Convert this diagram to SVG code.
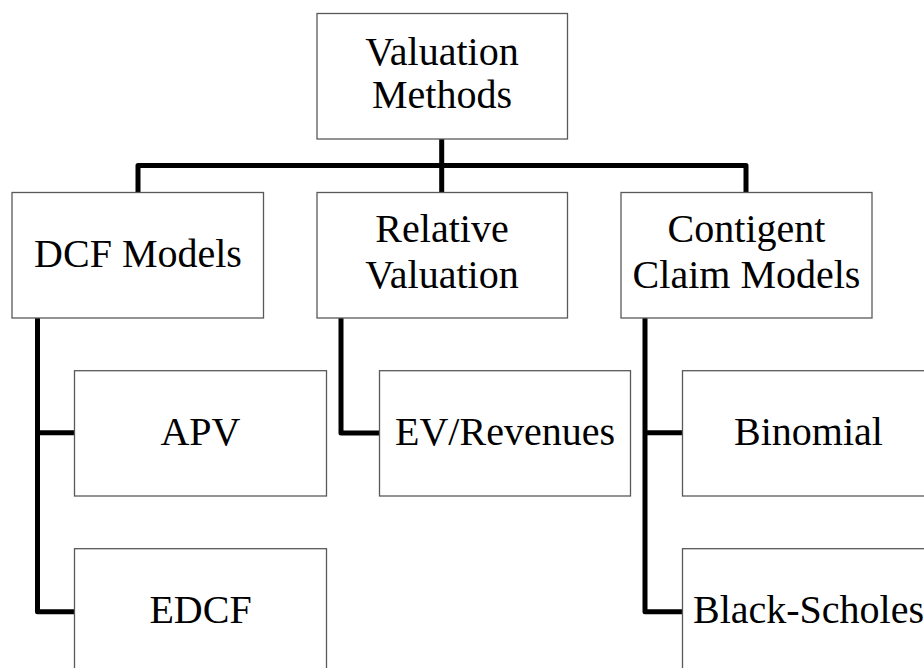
<svg xmlns="http://www.w3.org/2000/svg" width="924" height="668" viewBox="0 0 924 668">
<style>
.box{fill:#fff;stroke:#595959;stroke-width:1.3}
.lbl{font-family:"Liberation Serif","Times New Roman",serif;font-size:40px;fill:#000;text-anchor:middle}
.con{fill:none;stroke:#000;stroke-width:5;stroke-linejoin:round;stroke-linecap:butt}
</style>
<rect width="924" height="668" fill="#fff"/>
<g id="connectors">
<path class="con" d="M441.7,139 V192 M138,192 V165.5 H746 V192"/>
<path class="con" d="M37.5,318 V611.7 H74.5 M37.5,432.7 H74.5"/>
<path class="con" d="M341,318 V433 H379.5"/>
<path class="con" d="M645,318 V611.7 H682.5 M645,432.7 H682.5"/>
</g>
<g id="n-valuation"><rect class="box" x="317" y="13.5" width="250.5" height="125.5"/><text class="lbl" x="442" y="65">Valuation</text><text class="lbl" x="442" y="108">Methods</text></g>
<g id="n-dcf"><rect class="box" x="12" y="192.5" width="251.5" height="125.5"/><text class="lbl" x="138" y="267">DCF Models</text></g>
<g id="n-relative"><rect class="box" x="317" y="192.5" width="250.5" height="125.5"/><text class="lbl" x="442" y="242">Relative</text><text class="lbl" x="442" y="287.5">Valuation</text></g>
<g id="n-contigent"><rect class="box" x="621" y="192.5" width="251" height="125.5"/><text class="lbl" x="746.5" y="242">Contigent</text><text class="lbl" x="746.5" y="287.5">Claim Models</text></g>
<g id="n-apv"><rect class="box" x="74.5" y="370.7" width="252" height="125.3"/><text class="lbl" x="200.5" y="445">APV</text></g>
<g id="n-edcf"><rect class="box" x="74.5" y="548.7" width="252" height="125.3"/><text class="lbl" x="200.5" y="623">EDCF</text></g>
<g id="n-ev"><rect class="box" x="379.5" y="370.7" width="251" height="125.3"/><text class="lbl" x="505" y="445">EV/Revenues</text></g>
<g id="n-binomial"><rect class="box" x="682.5" y="370.7" width="252" height="125.3"/><text class="lbl" x="808.5" y="445">Binomial</text></g>
<g id="n-bs"><rect class="box" x="682.5" y="548.7" width="252" height="125.3"/><text class="lbl" x="808.5" y="623">Black-Scholes</text></g>
</svg>
